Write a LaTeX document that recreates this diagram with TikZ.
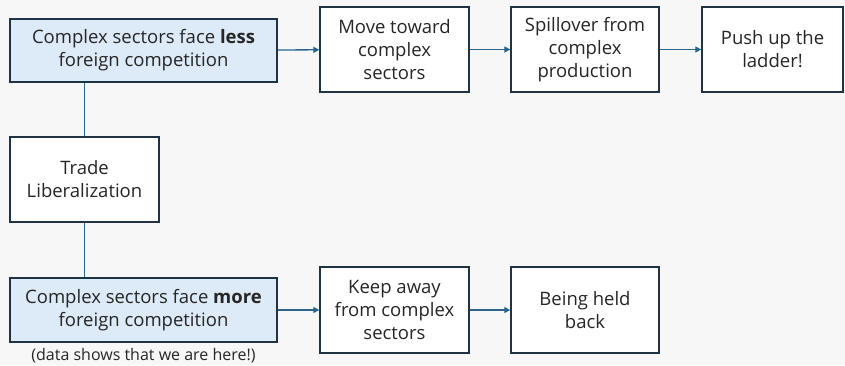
\documentclass[tikz,border=0pt]{standalone}
\usepackage{fontspec}
\setmainfont{Open Sans}
\usetikzlibrary{arrows.meta}
\definecolor{bg}{HTML}{F7F7F7}
\definecolor{boxline}{HTML}{1F3344}
\definecolor{bluefill}{HTML}{DDEAF7}
\definecolor{conn}{HTML}{2A6688}
\definecolor{txt}{HTML}{262626}
\tikzset{
  box/.style={draw=boxline, line width=1.4pt, fill=white, align=center, inner sep=0pt,
    font=\fontsize{18.5}{23}\selectfont, text=txt},
  bluebox/.style={box, fill=bluefill},
  conn/.style={draw=conn, line width=1.3pt},
  arr/.style={conn, -{Triangle[length=6pt,width=6pt]}},
}
\begin{document}
\begin{tikzpicture}[x=1pt,y=-1pt]
\fill[bg] (0,0) rectangle (845,365);
\useasboundingbox (0,0) rectangle (845,365);
\node[bluebox, minimum width=267pt, minimum height=63pt] (less) at (143.5,50.5) {Complex sectors face \textbf{less}\\foreign competition};
\node[box, minimum width=149pt, minimum height=85pt] (move) at (394.5,49.5) {Move toward\\complex\\sectors};
\node[box, minimum width=148pt, minimum height=85pt] (spill) at (585,49.5) {Spillover from\\complex\\production};
\node[box, minimum width=141pt, minimum height=85pt] (push) at (772.5,49.5) {Push up the\\ladder!};
\node[box, minimum width=149pt, minimum height=85pt] (trade) at (84.5,179.5) {Trade\\Liberalization};
\node[bluebox, minimum width=267pt, minimum height=64pt] (more) at (143.5,310) {Complex sectors face \textbf{more}\\foreign competition};
\node[box, minimum width=149pt, minimum height=86pt] (keep) at (394.5,310) {Keep away\\from complex\\sectors};
\node[box, minimum width=148pt, minimum height=86pt] (held) at (585,310) {Being held\\back};
\node[font=\fontsize{16}{18}\selectfont, text=txt, inner sep=0pt] (note) at (143.5,356) {(data shows that we are here!)};
\draw[conn] (less.south -| trade.north) -- (trade.north);
\draw[conn] (trade.south) -- (trade.south |- more.north);
\draw[arr] (less) -- (move);
\draw[arr] (move) -- (spill);
\draw[arr] (spill) -- (push);
\draw[arr] (more) -- (keep);
\draw[arr] (keep) -- (held);
\end{tikzpicture}
\end{document}
